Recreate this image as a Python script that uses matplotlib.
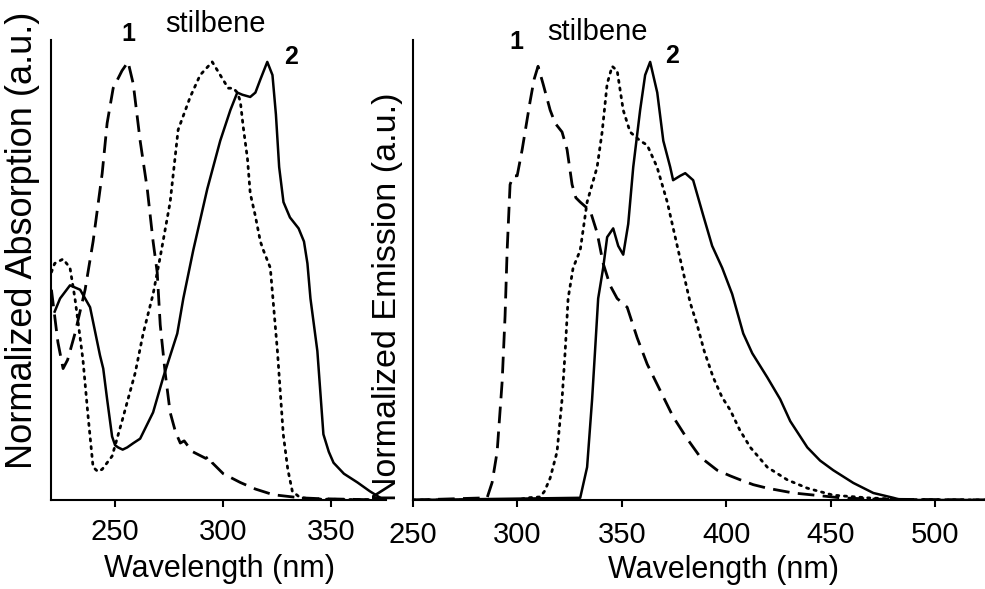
import matplotlib
matplotlib.use("Agg")
import matplotlib.pyplot as plt

plt.rcParams['font.family'] = ['Liberation Sans', 'DejaVu Sans']

# ---- absorption (left panel) ----
abs1_nm = [220.5, 221.5, 223.5, 225.9, 228, 231.4, 236.1, 239.8, 244.0, 246.3, 249.1,
           253.2, 256.0, 258.4, 261.6, 264.9, 267.6, 269.5, 270.9, 273.2, 275.5, 278, 280.2,
           282, 283.5, 286, 290, 292, 293.5, 295, 300.1, 308.0, 315, 323.3, 335.8, 345, 375]
abs1_val = [0.48, 0.44, 0.36, 0.30, 0.32, 0.38, 0.48, 0.59, 0.745, 0.86, 0.94,
            0.98, 1.0, 0.95, 0.82, 0.71, 0.59, 0.52, 0.40, 0.29, 0.20, 0.155, 0.13,
            0.135, 0.125, 0.11, 0.10, 0.095, 0.10, 0.085, 0.06, 0.04, 0.025, 0.012, 0.005,
            0.003, 0.0]

abs2_nm = [222, 224.5, 229.1, 233.8, 238.4, 243.0, 244.5, 246.3, 248.6, 250, 251.4, 253.5,
           255.6, 258.5, 261.6, 267.6, 272.3, 278.8, 281.6, 286.2, 292.7, 298.7, 303.4, 306.6,
           309, 312.6, 315, 317.3, 320.5, 322.9, 324.5, 326, 328, 331, 335, 337.5, 339.1,
           340.5, 343.7, 346.5, 349, 351.2, 356, 362.3, 368, 374.5]
abs2_val = [0.43, 0.46, 0.49, 0.48, 0.44, 0.33, 0.30, 0.23, 0.145, 0.125, 0.12, 0.115,
            0.12, 0.13, 0.14, 0.20, 0.28, 0.38, 0.46, 0.57, 0.71, 0.82, 0.89, 0.93,
            0.925, 0.92, 0.93, 0.96, 1.0, 0.97, 0.88, 0.76, 0.68, 0.645, 0.62, 0.59, 0.54,
            0.46, 0.34, 0.15, 0.11, 0.085, 0.06, 0.04, 0.02, 0.0]

abs_stb_nm = [220.5, 222, 225.9, 229.1, 231.4, 233.8, 235.1, 237.5, 239.8, 242, 244.0,
              248.6, 253.2, 259.3, 263.0, 267.6, 270.9, 275.5, 279.2, 284.8, 289.4, 295.0,
              298.7, 302.4, 304.8, 306.6, 308.0, 309.4, 311.3, 312.6, 314.9, 317.3, 318.7,
              321.9, 325.2, 327.9, 330, 332.1, 335.8, 345, 375]
abs_stb_val = [0.52, 0.54, 0.55, 0.53, 0.46, 0.37, 0.32, 0.19, 0.075, 0.065, 0.07,
               0.10, 0.18, 0.29, 0.38, 0.47, 0.555, 0.68, 0.845, 0.92, 0.97, 1.0,
               0.97, 0.94, 0.94, 0.93, 0.91, 0.85, 0.78, 0.70, 0.65, 0.59, 0.57,
               0.53, 0.34, 0.15, 0.07, 0.02, 0.005, 0.002, 0.0]

# ---- emission (right panel) ----
em1_nm = [250, 285.5, 287.9, 290.3, 292.7, 294.1, 295.1, 296.5, 298, 299.9, 302.3, 306.1, 308,
          309.9, 312.3, 315.7, 318.1, 321.4, 323.8, 326.2, 328, 330.1, 334.9, 338.2, 341.1,
          344.4, 347.8, 352.6, 357.4, 362.2, 368.4, 374.6, 381.3, 387.6, 395.7, 402.0, 406.8,
          413.0, 419.7, 432.2, 446.6, 454.7, 470, 525]
em1_val = [0, 0.005, 0.04, 0.11, 0.27, 0.42, 0.57, 0.72, 0.74, 0.74, 0.80, 0.91, 0.96,
           0.99, 0.95, 0.89, 0.86, 0.84, 0.80, 0.72, 0.69, 0.68, 0.66, 0.61, 0.54,
           0.49, 0.46, 0.44, 0.37, 0.31, 0.25, 0.19, 0.14, 0.098, 0.068, 0.055, 0.046,
           0.035, 0.027, 0.016, 0.009, 0.005, 0.002, 0]

em_stb_nm = [250, 300, 304.7, 310.9, 313, 315.7, 319.0, 321.4, 322.9, 324.3, 326.7, 330.1,
             333.4, 338.2, 340.6, 343.0, 345.4, 347.8, 350.7, 354.0, 358.8, 362.2, 366.9,
             371.8, 378.0, 382.8, 386.1, 389.5, 393.8, 398, 402, 406.5, 411.6, 419.7, 429.3,
             438.9, 451.3, 467.6, 485, 525]
em_stb_val = [0, 0, 0.005, 0.007, 0.02, 0.05, 0.11, 0.23, 0.34, 0.46, 0.53, 0.57,
              0.68, 0.76, 0.84, 0.95, 0.99, 0.98, 0.89, 0.84, 0.82, 0.81, 0.76,
              0.68, 0.55, 0.45, 0.40, 0.34, 0.28, 0.235, 0.205, 0.16, 0.12, 0.075, 0.046,
              0.027, 0.011, 0.005, 0.001, 0]

em2_nm = [250, 330.1, 333.4, 335.8, 337.2, 338.7, 341.1, 343.0, 345.9, 348.3, 350.7, 353.1,
          355.5, 358.8, 361.2, 363.6, 367.0, 369.9, 373.2, 374.6, 378.0, 380.4, 384.2, 389.0,
          393.3, 398.1, 402.9, 408.2, 412.5, 419.7, 425.9, 430.7, 438.9, 445, 451.3, 460.9,
          470.5, 480.1, 484, 525]
em2_val = [0, 0.005, 0.075, 0.23, 0.34, 0.46, 0.53, 0.60, 0.62, 0.58, 0.56, 0.63,
           0.76, 0.89, 0.97, 1.0, 0.93, 0.82, 0.76, 0.73, 0.74, 0.746, 0.73, 0.65,
           0.58, 0.53, 0.47, 0.38, 0.335, 0.28, 0.23, 0.18, 0.12, 0.09, 0.068, 0.039,
           0.016, 0.005, 0.0, 0.0]

left_ticks = [250, 300, 350]
right_ticks = [250, 300, 350, 400, 450, 500]

dash = (0, (6, 3))
dots = (0, (0.8, 2.0))

fig = plt.figure(figsize=(9.85, 5.89), dpi=100)
ax1 = fig.add_axes([51 / 985, 89 / 589, 335 / 985, 460 / 589])
ax2 = fig.add_axes([413 / 985, 89 / 589, 572 / 985, 460 / 589])

ax1.plot(abs1_nm, abs1_val, color='black', lw=2, linestyle=dash)
ax1.plot(abs_stb_nm, abs_stb_val, color='black', lw=2, linestyle=dots, dash_capstyle='round')
ax1.plot(abs2_nm, abs2_val, color='black', lw=1.8)

ax2.plot(em1_nm, em1_val, color='black', lw=2, linestyle=dash)
ax2.plot(em_stb_nm, em_stb_val, color='black', lw=2, linestyle=dots, dash_capstyle='round')
ax2.plot(em2_nm, em2_val, color='black', lw=1.8)

ax1.set_xlim(220.3, 375.5)
ax2.set_xlim(250, 524)
ax1.set_xticks(left_ticks)
ax2.set_xticks(right_ticks)

for ax in (ax1, ax2):
    ax.set_ylim(0, 1.05)
    ax.set_yticks([])
    for s in ('top', 'right'):
        ax.spines[s].set_visible(False)
    for s in ('left', 'bottom'):
        ax.spines[s].set_linewidth(1.5)
    ax.tick_params(axis='x', direction='out', length=5, width=1.5, labelsize=21, pad=8)
    ax.set_xlabel('Wavelength (nm)', fontsize=22)
    ax.xaxis.label.set_va('center')

ax2.tick_params(axis='x', pad=10)

ax1.set_ylabel('Normalized Absorption (a.u.)', fontsize=26)
ax2.set_ylabel('Normalized Emission (a.u.)', fontsize=24.5)
ax1.yaxis.label.set_va('center')
ax2.yaxis.label.set_va('center')
ax1.yaxis.set_label_coords(-0.085, 0.565)
ax2.yaxis.set_label_coords(-0.045, 0.441)
ax1.xaxis.set_label_coords(0.504, -0.15)
ax2.xaxis.set_label_coords(0.542, -0.152)

ax1.text(256.0, 1.064, '1', fontsize=18, fontweight='bold', ha='center', va='center')
ax1.text(296.4, 1.087, 'stilbene', fontsize=21, ha='center', va='center')
ax1.text(331.7, 1.011, '2', fontsize=18, fontweight='bold', ha='center', va='center')

ax2.text(299.4, 1.046, '1', fontsize=18, fontweight='bold', ha='center', va='center')
ax2.text(338.2, 1.068, 'stilbene', fontsize=21, ha='center', va='center')
ax2.text(374.2, 1.014, '2', fontsize=18, fontweight='bold', ha='center', va='center')

fig.savefig('out.png', dpi=100)
